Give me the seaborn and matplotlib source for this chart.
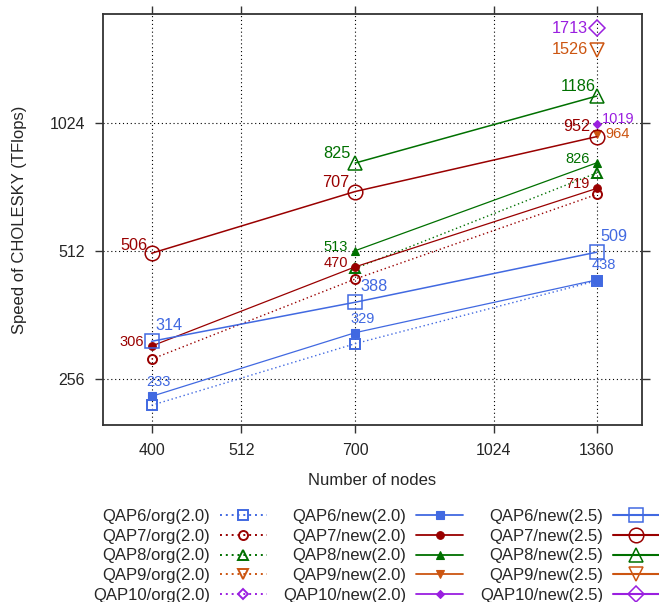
import numpy as np
import pandas as pd
import matplotlib
matplotlib.use("Agg")
import matplotlib.pyplot as plt
import seaborn as sns
from matplotlib.lines import Line2D
from matplotlib.ticker import FixedLocator, FixedFormatter, NullLocator

# ---------------- data ----------------
nodes = [400, 700, 1360]
nan = np.nan
qap6_org20 = [222, 310, 436]
qap7_org20 = [285, 440, 696]
qap8_org20 = [nan, 466, 782]
qap9_org20 = [nan, nan, nan]
qap10_org20 = [nan, nan, nan]

qap6_new20 = [233, 329, 438]
qap7_new20 = [306, 470, 719]
qap8_new20 = [nan, 513, 826]
qap9_new20 = [nan, nan, 964]
qap10_new20 = [nan, nan, 1019]

qap6_new25 = [314, 388, 509]
qap7_new25 = [506, 707, 952]
qap8_new25 = [nan, 825, 1186]
qap9_new25 = [nan, nan, 1526]
qap10_new25 = [nan, nan, 1713]

qaps = ["QAP6", "QAP7", "QAP8", "QAP9", "QAP10"]
versions = ["org(2.0)", "new(2.0)", "new(2.5)"]
values = {
    "org(2.0)": [qap6_org20, qap7_org20, qap8_org20, qap9_org20, qap10_org20],
    "new(2.0)": [qap6_new20, qap7_new20, qap8_new20, qap9_new20, qap10_new20],
    "new(2.5)": [qap6_new25, qap7_new25, qap8_new25, qap9_new25, qap10_new25],
}
x_ticks = [400, 512, 700, 1024, 1360]
y_ticks = [256, 512, 1024]
x_label = "Number of nodes"
y_label = "Speed of CHOLESKY (TFlops)"

rows = []
for ver in versions:
    for q, vals in zip(qaps, values[ver]):
        for n, v in zip(nodes, vals):
            rows.append({"qap": q, "version": ver, "nodes": n, "speed": v})
df = pd.DataFrame(rows)

# ---------------- style ----------------
colors = {"QAP6": "#4169E1", "QAP7": "#990000", "QAP8": "#007000",
          "QAP9": "#CC5511", "QAP10": "#9A1FE0"}
markers = {"QAP6": "s", "QAP7": "o", "QAP8": "^", "QAP9": "v", "QAP10": "D"}
ver_style = {
    "org(2.0)": dict(linestyle=(0, (1, 2)), linewidth=1.0, markersize=6.5,
                     fill=False, mew=1.4),
    "new(2.0)": dict(linestyle="-", linewidth=0.9, markersize=5.5,
                     fill=True, mew=0.8),
    "new(2.5)": dict(linestyle="-", linewidth=1.1, markersize=10.5,
                     fill=False, mew=1.1),
}
msize_adj = {"s": 1.0, "o": 1.0, "^": 1.0, "v": 1.0, "D": 0.75}

# label offsets in pixels (dx, dy, ha) for each point index
label_pos = {
    ("QAP6", "new(2.5)"): [(4, 16, "left"), (5, 16, "left"), (4, 16, "left")],
    ("QAP7", "new(2.5)"): [(-4, 8, "right"), (-6, 9, "right"), (-6, 10, "right")],
    ("QAP8", "new(2.5)"): [None, (-5, 10, "right"), (-1, 10, "right")],
    ("QAP9", "new(2.5)"): [None, None, (-9, 0, "right")],
    ("QAP10", "new(2.5)"): [None, None, (-9, 0, "right")],
    ("QAP6", "new(2.0)"): [(7, 14, "center"), (7, 14, "center"), (7, 15, "center")],
    ("QAP7", "new(2.0)"): [(-8, 4, "right"), (-7, 4, "right"), (-7, 4, "right")],
    ("QAP8", "new(2.0)"): [None, (-7, 4, "right"), (-7, 4, "right")],
    ("QAP9", "new(2.0)"): [None, None, (9, 0, "left")],
    ("QAP10", "new(2.0)"): [None, None, (5, 5, "left")],
}
label_fs = {"new(2.0)": 10.5, "new(2.5)": 11.7}

sns.set_style("ticks")
plt.rcParams["font.family"] = ["Liberation Sans", "DejaVu Sans"]

fig = plt.figure(figsize=(6.59, 6.02), dpi=100)
ax = fig.add_axes([103 / 659, 1 - 425 / 602, (642 - 103) / 659, (425 - 14) / 602])

handles = []
for ver in versions:
    st = ver_style[ver]
    for q in qaps:
        sub = df[(df.qap == q) & (df.version == ver)].dropna()
        c = colors[q]
        m = markers[q]
        ms = st["markersize"] * msize_adj[m]
        mfc = c if st["fill"] else "none"
        if len(sub):
            sns.lineplot(data=sub, x="nodes", y="speed", ax=ax, color=c,
                         marker=m, markersize=ms, markerfacecolor=mfc,
                         markeredgecolor=c, markeredgewidth=st["mew"],
                         linestyle=st["linestyle"], linewidth=st["linewidth"],
                         errorbar=None, legend=False, zorder=3)
        handles.append(Line2D([], [], color=c, marker=m, markersize=ms,
                              markerfacecolor=mfc, markeredgecolor=c,
                              markeredgewidth=st["mew"],
                              linestyle=st["linestyle"],
                              linewidth=st["linewidth"] + 0.4,
                              label=f"{q}/{ver}"))
        pos = label_pos.get((q, ver))
        if pos:
            for n, v, p in zip(sub.nodes, sub.speed,
                               [p for p, vv in zip(pos, values[ver][qaps.index(q)]) if not np.isnan(vv)]):
                if p is None:
                    continue
                ax.annotate(f"{int(v)}", (n, v), xytext=(p[0], p[1]),
                            textcoords="offset pixels", ha=p[2], va="center",
                            color=c, fontsize=label_fs[ver], zorder=4)

ax.set_xscale("log", base=2)
ax.set_yscale("log", base=2)
ax.set_xlim(350, 1540)
ax.set_ylim(199.5, 1850)
ax.xaxis.set_major_locator(FixedLocator(x_ticks))
ax.xaxis.set_major_formatter(FixedFormatter([str(t) for t in x_ticks]))
ax.xaxis.set_minor_locator(NullLocator())
ax.yaxis.set_major_locator(FixedLocator(y_ticks))
ax.yaxis.set_major_formatter(FixedFormatter([str(t) for t in y_ticks]))
ax.yaxis.set_minor_locator(NullLocator())

ax.grid(True, which="major", color="black", linestyle=(0, (1, 2.5)), linewidth=0.8)
ax.set_axisbelow(True)
for s in ax.spines.values():
    s.set_visible(True)
    s.set_color("#333333")
    s.set_linewidth(1.3)
ax.tick_params(axis="both", which="major", direction="out", length=6, width=1.0,
               color="#333333", labelsize=11.5, top=True, right=True,
               labeltop=False, labelright=False, pad=7)
ax.set_xlabel(x_label, fontsize=12, labelpad=11)
ax.set_ylabel(y_label, fontsize=12, labelpad=16)

fig.legend(handles=handles, ncol=3, loc="upper left",
           bbox_to_anchor=(93 / 659, 1 - 509 / 602), frameon=False,
           markerfirst=False, fontsize=12, handlelength=2.8, handletextpad=0.6,
           columnspacing=1.0, labelspacing=0.28, borderpad=0, borderaxespad=0)

fig.savefig("out.png", dpi=100)
